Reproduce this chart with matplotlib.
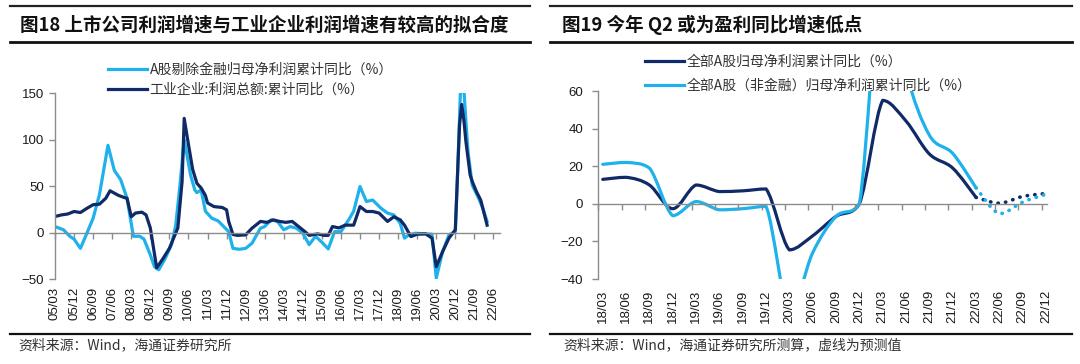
import numpy as np
import matplotlib
matplotlib.use("Agg")
import matplotlib.pyplot as plt
from matplotlib.path import Path
from matplotlib.patches import PathPatch
from matplotlib.lines import Line2D
from matplotlib.transforms import blended_transform_factory

plt.rcParams["font.family"] = ["Liberation Sans", "Noto Sans CJK SC"]

DARK = "#0f2a66"
LIGHT = "#1fb1ec"
GREY = "#8c8c8c"
CJK = ["Noto Sans CJK SC", "Liberation Sans"]

# ---- 图18 data (YY/MM, cumulative yoy %) ----
ind_dates = ["05/03", "05/06", "05/09", "05/12", "06/03", "06/06", "06/09", "06/12",
             "07/03", "07/05", "07/09", "07/12", "08/01", "08/03", "08/05", "08/08",
             "08/10", "08/12", "09/03", "09/06", "09/09", "09/11", "10/01", "10/03",
             "10/04", "10/06", "10/08", "10/10", "10/12", "11/02", "11/03", "11/06",
             "11/10", "11/12", "12/01", "12/03", "12/05", "12/09", "12/12", "13/04",
             "13/07", "13/10", "14/01", "14/04", "14/07", "14/10", "15/01", "15/03",
             "15/07", "15/10", "15/12", "16/02", "16/05", "16/08", "16/12", "17/03",
             "17/06", "17/09", "17/12", "18/04", "18/07", "18/10", "18/12", "19/03",
             "19/06", "19/10", "20/01", "20/03", "20/06", "20/09", "20/12", "21/01",
             "21/02", "21/03", "21/04", "21/05", "21/07", "21/08", "21/10", "21/12",
             "22/01", "22/03"]
ind_vals = [17.3, 19, 20, 22.7, 21.6, 26, 30, 30.6,
            37, 45, 40, 37.5, 37, 17, 21, 22,
            19, 5, -38, -28, -17, -6, 5, 55,
            123, 95, 68, 53, 48, 40, 32, 28,
            27, 24.5, 12, -2, -3, -2.5, 4.7, 12,
            11, 13.7, 12, 11, 12, 6.5, 1, -3,
            -1.4, -3, -3, 6.5, 5, 8, 8, 28,
            22.7, 22.7, 21, 12, 17, 13.7, 8, -4.3,
            -1.8, -1.4, -6, -36.7, -20.5, -6, 3, 60,
            116, 138, 122, 98, 62, 55, 44, 35,
            26, 8]

ash_dates = ["05/03", "05/07", "05/10", "05/12", "06/03", "06/06", "06/09", "06/12",
             "07/04", "07/07", "07/10", "08/01", "08/04", "08/07", "08/09", "08/12",
             "09/02", "09/04", "09/07", "09/10", "09/12", "10/02", "10/04", "10/07",
             "10/09", "10/10", "10/12", "11/02", "11/05", "11/08", "11/10", "12/01",
             "12/03", "12/06", "12/09", "12/12", "13/04", "13/06", "13/09", "13/12",
             "14/03", "14/06", "14/09", "14/12", "15/03", "15/06", "15/09", "15/12",
             "16/03", "16/06", "16/08", "16/10", "16/12", "17/03", "17/06", "17/09",
             "18/01", "18/04", "18/07", "18/10", "18/12", "19/02", "19/05", "19/10",
             "20/01", "20/03", "20/06", "20/09", "20/12", "21/01", "21/03", "21/05",
             "21/06", "21/08", "21/11", "22/01", "22/03"]
ash_vals = [6.5, 3, -4, -7, -17, -1, 15.5, 41,
            94, 67, 57, 37, -4, -4, -7, -24,
            -37, -40, -28, -13, 8, 51, 100, 62,
            46, 43, 46, 23, 15.5, 12.6, 8, 1,
            -17, -18, -17, -11.5, 4.7, 6.5, 13.7, 12,
            3, 6.5, 4.7, -0.7, -13, -4, -10.4, -17.6,
            1, 1, 8, 15, 23, 49.6, 33.5, 35,
            26, 21, 19, 10, -6, -2.5, -0.7, -1.4,
            -1.8, -49, -20.5, -2.5, 1, 60, 190, 120,
            87, 51, 37, 26, 12]

left_ticks = ["05/03", "05/12", "06/09", "07/06", "08/03", "08/12", "09/09", "10/06",
              "11/03", "11/12", "12/09", "13/06", "14/03", "14/12", "15/09", "16/06",
              "17/03", "17/12", "18/09", "19/06", "20/03", "20/12", "21/09", "22/06"]

# ---- 图19 data (quarterly, %) ----
right_ticks = ["18/03", "18/06", "18/09", "18/12", "19/03", "19/06", "19/09", "19/12",
               "20/03", "20/06", "20/09", "20/12", "21/03", "21/06", "21/09", "21/12",
               "22/03", "22/06", "22/09", "22/12"]
all_a = [13, 14.1, 10, -2.6, 10, 6.5, 6.9, 7.9, -24.5, -17, -6.7, 0, 55, 44, 26.5, 19, 3.4]
all_a_fc = [3.4, 0.3, 3.9, 5.5]
nonfin = [21, 22, 19, -6.3, 1.2, -3.2, -2.6, -1.4, -58, -26, -6.7, 0, 130, 70, 36.5, 26.8, 8.5]
nonfin_fc = [8.5, -5.3, 0.9, 5.1]


def month_idx(d):
    yy, mm = d.split("/")
    return (int(yy) - 5) * 12 + int(mm) - 3


def smooth_path(x, y):
    # smoothed line like Excel; handles kept inside each segment's y-range
    pts = np.column_stack([x, y]).astype(float)
    n = len(pts)
    verts = [pts[0]]
    codes = [Path.MOVETO]
    for i in range(n - 1):
        p0 = pts[max(i - 1, 0)]
        p1, p2 = pts[i], pts[i + 1]
        p3 = pts[min(i + 2, n - 1)]
        c1 = p1 + (p2 - p0) / 6
        c2 = p2 - (p3 - p1) / 6
        lo, hi = min(p1[1], p2[1]), max(p1[1], p2[1])
        c1[1] = np.clip(c1[1], lo, hi)
        c2[1] = np.clip(c2[1], lo, hi)
        verts += [c1, c2, p2]
        codes += [Path.CURVE4] * 3
    return Path(verts, codes)


def style_axes(ax, ypad):
    for s in ["top", "right"]:
        ax.spines[s].set_visible(False)
    for s in ["left", "bottom"]:
        ax.spines[s].set_color(GREY)
        ax.spines[s].set_linewidth(1.0)
    ax.spines["bottom"].set_position(("data", 0))
    ax.tick_params(axis="y", direction="out", length=4, width=1, color=GREY,
                   labelsize=9.5, pad=ypad, labelcolor="#1a1a1a")
    ax.tick_params(axis="x", direction="out", length=4, width=1, color=GREY,
                   labelbottom=False)


def rotated_labels(ax, xs, labels, yoff):
    tr = blended_transform_factory(ax.transData, ax.transAxes)
    for x, lab in zip(xs, labels):
        ax.text(x, yoff, lab, transform=tr, rotation=90, ha="center", va="top",
                fontsize=9.5, color="#1a1a1a")


fig = plt.figure(figsize=(10.8, 3.64), dpi=100)
W, H = 1080, 364

# ---------------- left panel ----------------
ax1 = fig.add_axes([55 / W, (H - 279) / H, 444.8 / W, 185.7 / H])
ax1.plot([month_idx(d) for d in ash_dates], ash_vals, color=LIGHT, lw=2.3,
         solid_joinstyle="round", label="A股剔除金融归母净利润累计同比（%）")
ax1.plot([month_idx(d) for d in ind_dates], ind_vals, color=DARK, lw=2.3,
         solid_joinstyle="round", label="工业企业:利润总额:累计同比（%）")
ax1.set_xlim(0, 210)
ax1.set_ylim(-50, 150)
ax1.set_yticks([-50, 0, 50, 100, 150])
tick_pos = [month_idx(t) for t in left_ticks]
ax1.set_xticks(tick_pos)
style_axes(ax1, 4)
rotated_labels(ax1, tick_pos, left_ticks, -0.043)
leg1 = ax1.legend(loc="upper left", bbox_to_anchor=(108 / W, 1 - 63 / H),
                  bbox_transform=fig.transFigure, frameon=False, borderpad=0,
                  borderaxespad=0, handlelength=2.8, handletextpad=0.2,
                  labelspacing=0.4, prop={"family": CJK, "size": 10})
for t in leg1.get_texts():
    t.set_color("#333333")

# ---------------- right panel ----------------
ax2 = fig.add_axes([598.3 / W, (H - 279) / H, 448.9 / W, 188 / H])
k = np.arange(len(right_ticks))
n_hist = len(all_a)
ax2.add_patch(PathPatch(smooth_path(k[:n_hist], all_a), fill=False,
                        edgecolor=DARK, lw=2.3, capstyle="round"))
ax2.add_patch(PathPatch(smooth_path(k[n_hist - 1:], all_a_fc), fill=False,
                        edgecolor=DARK, lw=2.6, linestyle=(0, (0.1, 2.0)),
                        capstyle="round"))
ax2.add_patch(PathPatch(smooth_path(k[:n_hist], nonfin), fill=False,
                        edgecolor=LIGHT, lw=2.3, capstyle="round"))
ax2.add_patch(PathPatch(smooth_path(k[n_hist - 1:], nonfin_fc), fill=False,
                        edgecolor=LIGHT, lw=2.6, linestyle=(0, (0.1, 2.0)),
                        capstyle="round"))
ax2.set_xlim(-0.19, 19.05)
ax2.set_ylim(-40, 60)
ax2.set_yticks([-40, -20, 0, 20, 40, 60])
ax2.set_xticks(k - 0.19)
style_axes(ax2, 7)
rotated_labels(ax2, k, right_ticks, -0.058)
handles = [Line2D([], [], color=DARK, lw=2.3), Line2D([], [], color=LIGHT, lw=2.3)]
leg2 = ax2.legend(handles, ["全部A股归母净利润累计同比（%）",
                            "全部A股（非金融）归母净利润累计同比（%）"],
                  loc="upper left", bbox_to_anchor=(645 / W, 1 - 55 / H),
                  bbox_transform=fig.transFigure, frameon=False, borderpad=0,
                  borderaxespad=0, handlelength=2.8, handletextpad=0.2,
                  labelspacing=0.7, prop={"family": CJK, "size": 10})
for t in leg2.get_texts():
    t.set_color("#333333")

# ---------------- frame: rules, titles, sources ----------------
for x0, x1 in [(10, 530), (550, 1072)]:
    fig.add_artist(Line2D([x0 / W, x1 / W], [1 - 6 / H] * 2, color="#222222", lw=1.6))
    fig.add_artist(Line2D([x0 / W, x1 / W], [1 - 41.7 / H] * 2, color="#111111", lw=2.0))
    fig.add_artist(Line2D([x0 / W, x1 / W], [1 - 334 / H] * 2, color="#111111", lw=1.6))

fig.text(20 / W, 1 - 25 / H, "图18 上市公司利润增速与工业企业利润增速有较高的拟合度",
         family=CJK, fontsize=13.3, fontweight="bold", va="center", ha="left", color="#111111")
fig.text(562 / W, 1 - 25 / H, "图19 今年 Q2 或为盈利同比增速低点",
         family=CJK, fontsize=13.3, fontweight="bold", va="center", ha="left", color="#111111")
fig.text(18 / W, 1 - 345.7 / H, "资料来源：Wind，海通证券研究所",
         family=CJK, fontsize=10, va="center", ha="left", color="#333333")
fig.text(563 / W, 1 - 345.7 / H, "资料来源：Wind，海通证券研究所测算，虚线为预测值",
         family=CJK, fontsize=10, va="center", ha="left", color="#333333")

fig.savefig("out.png", dpi=100)
